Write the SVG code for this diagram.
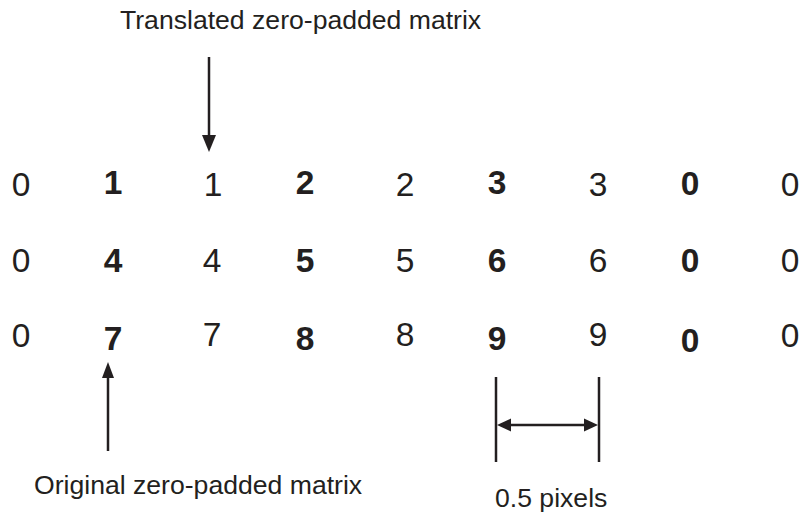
<svg xmlns="http://www.w3.org/2000/svg" width="803" height="512" viewBox="0 0 803 512">
  <style>
    text { font-family: "Liberation Sans", Arial, sans-serif; fill: #231f20; }
    .label { font-size: 26.6px; }
    .num { font-size: 33.5px; text-anchor: middle; }
    .b { font-weight: bold; }
    .line { stroke: #231f20; stroke-width: 2.5; fill: none; }
    .head { fill: #231f20; }
  </style>
  <rect width="803" height="512" fill="#ffffff"/>

  <!-- labels -->
  <g id="label-translated">
    <text class="label" x="120" y="29">Translated zero-padded matrix</text>
  </g>
  <g id="label-original">
    <text class="label" x="34" y="494">Original zero-padded matrix</text>
  </g>
  <g id="label-half-pixel">
    <text class="label" x="495" y="507">0.5 pixels</text>
  </g>

  <!-- matrix values: bold = original, regular = translated -->
  <g id="row-1">
    <text class="num" x="21" y="196">0</text>
    <text class="num b" x="113" y="194">1</text>
    <text class="num" x="213" y="196">1</text>
    <text class="num b" x="305" y="194">2</text>
    <text class="num" x="405" y="196">2</text>
    <text class="num b" x="497" y="194">3</text>
    <text class="num" x="598" y="196">3</text>
    <text class="num b" x="690" y="195">0</text>
    <text class="num" x="790" y="196">0</text>
  </g>
  <g id="row-2">
    <text class="num" x="21" y="272">0</text>
    <text class="num b" x="113" y="272">4</text>
    <text class="num" x="212" y="272">4</text>
    <text class="num b" x="305" y="272">5</text>
    <text class="num" x="405" y="272">5</text>
    <text class="num b" x="497" y="272">6</text>
    <text class="num" x="598" y="272">6</text>
    <text class="num b" x="690" y="272">0</text>
    <text class="num" x="790" y="272">0</text>
  </g>
  <g id="row-3">
    <text class="num" x="21" y="347">0</text>
    <text class="num b" x="113" y="350">7</text>
    <text class="num" x="212" y="346">7</text>
    <text class="num b" x="305" y="350">8</text>
    <text class="num" x="405" y="346">8</text>
    <text class="num b" x="497" y="350">9</text>
    <text class="num" x="598" y="346">9</text>
    <text class="num b" x="690" y="352">0</text>
    <text class="num" x="790" y="347">0</text>
  </g>

  <!-- connectors -->
  <g id="connectors">
    <line class="line" x1="209" y1="57" x2="209" y2="137"/>
    <polygon class="head" points="202,135 216,135 209,152"/>

    <line class="line" x1="108" y1="376" x2="108" y2="451"/>
    <polygon class="head" points="102,378 114,378 108,362"/>

    <line class="line" x1="496" y1="377" x2="496" y2="462"/>
    <line class="line" x1="599" y1="377" x2="599" y2="462"/>
    <line class="line" x1="508" y1="425" x2="587" y2="425"/>
    <polygon class="head" points="497,425 511,418.5 511,431.5"/>
    <polygon class="head" points="598,425 584,418.5 584,431.5"/>
  </g>
</svg>
